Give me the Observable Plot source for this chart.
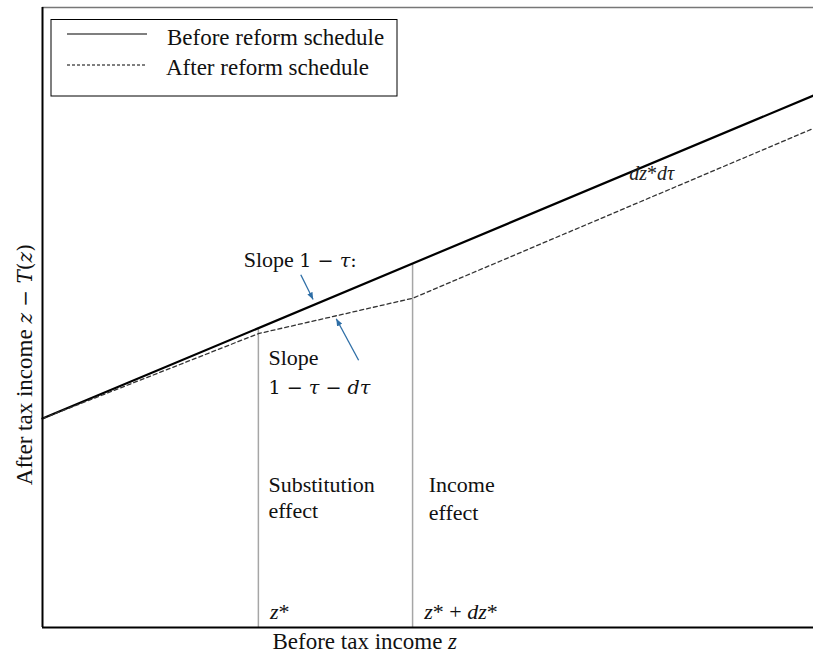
<!DOCTYPE html>
<html><head><meta charset="utf-8">
<script src="https://cdn.jsdelivr.net/npm/d3@7"></script>
<script src="https://cdn.jsdelivr.net/npm/@observablehq/plot@0.6"></script>
<style>
body{margin:0;background:#fff}
#chart{position:relative;width:813px;height:653px}
</style>
</head><body><div id="chart"></div>
<script>
// ---- data (abstract units: income z 0..100, after-tax income 0..100) ----
const beforeZ = [0, 100];
const beforeV = [33.7, 85.8];
const afterZ = [0, 28, 48, 100];
const afterV = [33.7, 47.4, 53.1, 80.5];
const markerZ = [28, 48];
const markerTop = [48.3, 58.7];
const markerLabels = ["{z}*", "{z}* + {d}{z}*"];
const legendLabels = ["Before reform schedule", "After reform schedule"];
const xLabel = "Before tax income {z}";
const yLabel = "After tax income [{z} − {T}({z})]";

// annotation text (x, y in data units); [..] = math font, {..} = italic
const annotations = [
  {x: 26.1, y: 58.1, text: "Slope [1 − {τ}:]"},
  {x: 29.3, y: 42.3, text: "Slope"},
  {x: 29.3, y: 37.7, text: "[1 − {τ} − {d}{τ}]"},
  {x: 29.3, y: 21.9, text: "Substitution"},
  {x: 29.3, y: 17.6, text: "effect"},
  {x: 50.1, y: 21.8, text: "Income"},
  {x: 50.1, y: 17.3, text: "effect"}
];
const arrowsData = [
  {x1: 33.5, y1: 56.9, x2: 35.1, y2: 52.9},
  {x1: 41.0, y1: 43.1, x2: 38.1, y2: 49.8}
];

const before = beforeZ.map((z, i) => ({z, v: beforeV[i]}));
const after = afterZ.map((z, i) => ({z, v: afterV[i]}));
const markers = markerZ.map((z, i) => ({z, top: markerTop[i], label: markerLabels[i]}));

const serif = "Liberation Serif";
const mathFont = "DejaVu Serif";

// filled triangular arrowhead marker
function headMarker(color, context) {
  const doc = (context && context.document) || document;
  const ns = "http://www.w3.org/2000/svg";
  const m = doc.createElementNS(ns, "marker");
  m.setAttribute("viewBox", "-10 -5 10 10");
  m.setAttribute("markerWidth", 5.5);
  m.setAttribute("markerHeight", 5.5);
  m.setAttribute("refX", 0);
  m.setAttribute("refY", 0);
  m.setAttribute("orient", "auto");
  const p = doc.createElementNS(ns, "path");
  p.setAttribute("d", "M-10,-4L0,0L-10,4Z");
  p.setAttribute("fill", color);
  p.setAttribute("stroke", "none");
  m.appendChild(p);
  return m;
}

const txt = {fontFamily: serif, fill: "#111"};

const plot = Plot.plot({
  width: 813, height: 653,
  marginLeft: 42, marginRight: 0, marginTop: 7, marginBottom: 26,
  x: {domain: [0, 100], axis: null},
  y: {domain: [0, 100], axis: null},
  style: {background: "#fff", overflow: "visible", color: "#111"},
  marks: [
    Plot.ruleX(markers, {x: "z", y1: 0, y2: "top", stroke: "#a6a6a6", strokeWidth: 1.5}),
    Plot.line(before, {x: "z", y: "v", stroke: "#000", strokeWidth: 2.2}),
    Plot.line(after, {x: "z", y: "v", stroke: "#333", strokeWidth: 1.3, strokeDasharray: "4,3"}),
    Plot.link(arrowsData, {x1: "x1", y1: "y1", x2: "x2", y2: "y2", stroke: "#2e6ea6", strokeWidth: 1.3, markerEnd: headMarker}),
    Plot.ruleY([100], {stroke: "#777", strokeWidth: 1.5}),
    Plot.ruleX([0], {stroke: "#000", strokeWidth: 2}),
    Plot.ruleY([0], {stroke: "#000", strokeWidth: 2.2}),
    Plot.text(annotations, {...txt, x: "x", y: "y", text: "text", textAnchor: "start", lineAnchor: "bottom", fontSize: 22}),
    Plot.text(markers, {...txt, x: d => d.z + 1.5, y: 1.3, text: "label", textAnchor: "start", lineAnchor: "bottom", fontSize: 22}),
    Plot.text(["{d}{z}*{d}{τ}"], {...txt, x: 76.1, y: 72.1, textAnchor: "start", lineAnchor: "bottom", fontSize: 20, fill: "#222"}),
    Plot.text([xLabel], {...txt, x: 41.8, frameAnchor: "bottom", dy: 21, textAnchor: "middle", lineAnchor: "bottom", fontSize: 23}),
    Plot.text([yLabel], {...txt, y: 42.4, frameAnchor: "left", dx: -11, rotate: -90, textAnchor: "middle", lineAnchor: "bottom", fontSize: 23})
  ]
});

// rich text: [..] math font, {..} italic
function appendItalic(parent, s) {
  s.split(/(\{[^}]*\})/).filter(p => p).forEach(p => {
    if (p.startsWith("{")) parent.append("tspan").attr("font-style", "italic").text(p.slice(1, -1));
    else parent.append("tspan").text(p);
  });
}
d3.select(plot).selectAll("text").each(function() {
  const t = this.textContent;
  this.setAttribute("font-family", serif);
  if (!t.includes("{") && !t.includes("[")) return;
  const el = d3.select(this);
  el.selectAll("*").remove();
  el.text(null);
  t.split(/(\[[^\]]*\])/).filter(s => s).forEach(s => {
    if (s.startsWith("[")) {
      const m = el.append("tspan").attr("font-family", mathFont).attr("font-size", "0.87em");
      appendItalic(m, s.slice(1, -1));
    } else appendItalic(el, s);
  });
});

// legend box
const svg = d3.select(plot);
const lg = svg.append("g").attr("font-family", serif).attr("font-size", 23)
  .attr("fill", "#111").attr("text-anchor", "start");
lg.append("rect").attr("x", 51).attr("y", 19.5).attr("width", 346).attr("height", 76.5)
  .attr("fill", "#fff").attr("stroke", "#000").attr("stroke-width", 1);
lg.append("line").attr("x1", 67).attr("x2", 147).attr("y1", 34).attr("y2", 34)
  .attr("stroke", "#000").attr("stroke-width", 1.2);
lg.append("line").attr("x1", 67).attr("x2", 147).attr("y1", 65).attr("y2", 65)
  .attr("stroke", "#000").attr("stroke-width", 1).attr("stroke-dasharray", "3,2");
legendLabels.forEach((l, i) => {
  lg.append("text").attr("x", i === 0 ? 167 : 166).attr("y", i === 0 ? 45 : 75).text(l);
});

document.getElementById("chart").appendChild(plot);
</script>
</body></html>
